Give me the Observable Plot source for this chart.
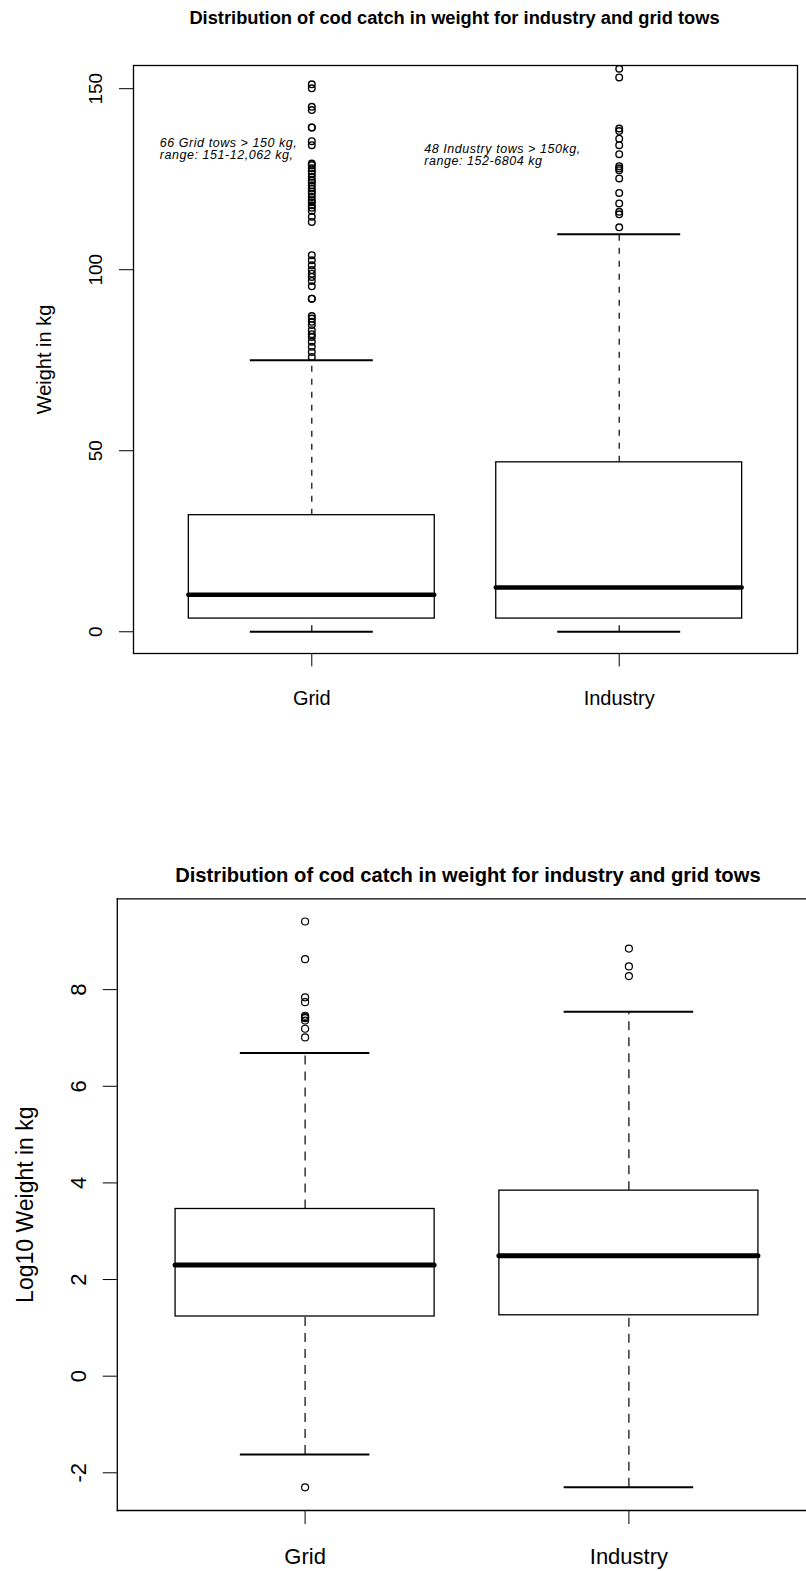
<!DOCTYPE html>
<html>
<head>
<meta charset="utf-8">
<script src="https://cdn.jsdelivr.net/npm/d3@7"></script>
<script src="https://cdn.jsdelivr.net/npm/@observablehq/plot@0.6"></script>
<style>
  html, body { margin: 0; padding: 0; background: #fff; }
  #wrap { width: 806px; }
  #wrap svg { display: block; }
</style>
</head>
<body>
<div id="wrap"></div>
<script>
// ---------- data ----------
const titleText = "Distribution of cod catch in weight for industry and grid tows";
const categories = ["Grid", "Industry"];
const positions = [1, 2];

// Top panel: raw weight (kg), y limited to 0–150
const topLower  = [0, 0];
const topQ1     = [3.65, 3.65];
const topMedian = [10.2, 12.2];
const topQ3     = [32.2, 46.8];
const topUpper  = [75.0, 109.8];
const topYTicks = [0, 50, 100, 150];
const topYLabel = "Weight in kg";
const gridOutliersTop = [151.2, 150.1, 145.0, 144.1, 139.3, 139.3, 135.5, 134.4,
  129.3, 128.9, 128.0, 127.2, 126.6, 125.7, 124.7, 124.1, 123.3, 122.4, 121.6, 121.0,
  120.1, 119.2, 118.6, 117.8, 117.1, 116.2, 114.6, 113.2,
  104.0, 102.6, 101.2, 99.9, 98.9, 98.0, 96.9, 95.4, 92.0, 92.0,
  87.2, 86.5, 85.6, 84.7, 83.3, 82.2, 81.4, 80.1, 78.7, 77.3, 75.9];
const industryOutliersTop = [155.5, 153.1, 139.0, 138.3, 136.2, 134.4, 131.9, 128.6,
  128.0, 127.5, 125.2, 121.2, 118.3, 116.0, 115.3, 111.7];
const annotLines = ["66 Grid tows > 150 kg,", "range: 151-12,062 kg,",
                    "48 Industry tows > 150kg,", "range: 152-6804 kg"];
const annotX = [0.5055, 0.5055, 1.3657, 1.3657];
const annotY = [134.9, 131.6, 133.4, 129.9];

// Bottom panel: log10 weight
const botLower  = [-1.62, -2.30];
const botQ1     = [1.235, 1.26];
const botMedian = [2.30, 2.49];
const botQ3     = [3.46, 3.84];
const botUpper  = [6.69, 7.54];
const botYTicks = [-2, 0, 2, 4, 6, 8];
const botYLabel = "Log10 Weight in kg";
const gridOutliersBot = [9.41, 8.63, 7.84, 7.74, 7.46, 7.43, 7.41, 7.36, 7.19, 7.01, -2.30];
const industryOutliersBot = [8.85, 8.48, 8.28];

// ---------- helpers ----------
const font = "'Liberation Sans', Arial, Helvetica, sans-serif";
function boxTable(lo, q1, med, q3, up) {
  return categories.map((c, i) => ({cat: c, pos: positions[i], lower: lo[i], q1: q1[i], median: med[i], q3: q3[i], upper: up[i]}));
}
function outlierTable(g, ind) {
  return g.map(v => ({pos: positions[0], v})).concat(ind.map(v => ({pos: positions[1], v})));
}

function boxMarks(boxes, outliers, dash, opts) {
  return [
    Plot.ruleX(boxes, {x: "pos", y1: "q3", y2: "upper", stroke: "black", strokeWidth: 1.2, strokeDasharray: dash}),
    Plot.ruleX(boxes, {x: "pos", y1: "lower", y2: "q1", stroke: "black", strokeWidth: 1.2, strokeDasharray: dash}),
    Plot.rect(boxes, {x1: d => d.pos - 0.4, x2: d => d.pos + 0.4, y1: "q1", y2: "q3", fill: "white", stroke: "black", strokeWidth: 1.3}),
    Plot.ruleY(boxes, {y: "median", x1: d => d.pos - 0.4, x2: d => d.pos + 0.4, stroke: "black", strokeWidth: opts.medW, strokeLinecap: "round"}),
    Plot.ruleY(boxes, {y: "upper", x1: d => d.pos - 0.2, x2: d => d.pos + 0.2, stroke: "black", strokeWidth: 2}),
    Plot.ruleY(boxes, {y: "lower", x1: d => d.pos - 0.2, x2: d => d.pos + 0.2, stroke: "black", strokeWidth: 2}),
    Plot.dot(outliers, {x: "pos", y: "v", r: opts.r, stroke: "black", fill: "none", strokeWidth: opts.dotW, clip: true})
  ];
}

// ---------- top chart ----------
const topBoxes = boxTable(topLower, topQ1, topMedian, topQ3, topUpper);
const topOut = outlierTable(gridOutliersTop, industryOutliersTop);
const annots = annotLines.map((t, i) => ({t, x: annotX[i], y: annotY[i]}));

const chartTop = Plot.plot({
  width: 806, height: 785,
  marginTop: 65, marginBottom: 132, marginLeft: 133, marginRight: 9,
  style: {fontFamily: font, background: "white", color: "black", overflow: "visible"},
  x: {domain: [0.42, 2.58], axis: null},
  y: {domain: [-6, 156.4], axis: null},
  marks: [
    ...boxMarks(topBoxes, topOut, "6,7", {medW: 4.5, r: 3.3, dotW: 1.4}),
    Plot.text(annots, {x: "x", y: "y", text: "t", textAnchor: "start", lineAnchor: "middle", fontSize: 12.5, fontStyle: "italic"}),
    Plot.frame({stroke: "black", strokeWidth: 1.3}),
    Plot.axisX({ticks: positions, tickFormat: d => categories[d - 1], tickSize: 13.4, tickPadding: 24, fontSize: 20, label: null}),
    Plot.axisY({ticks: topYTicks, tickSize: 14, tickFormat: () => "", label: null}),
    Plot.text(topYTicks, {y: d => d, text: d => String(d), frameAnchor: "left", dx: -37.3, rotate: -90, textAnchor: "middle", lineAnchor: "middle", fontSize: 19}),
    Plot.text([topYLabel], {frameAnchor: "left", dx: -89, rotate: -90, textAnchor: "middle", lineAnchor: "middle", fontSize: 20}),
    Plot.text([titleText], {frameAnchor: "top", dx: -11, dy: -41.5, lineAnchor: "bottom", textAnchor: "middle", fontSize: 18.3, fontWeight: "bold"})
  ]
});

// ---------- bottom chart ----------
const botBoxes = boxTable(botLower, botQ1, botMedian, botQ3, botUpper);
const botOut = outlierTable(gridOutliersBot, industryOutliersBot);

const chartBottom = Plot.plot({
  width: 806, height: 786,
  marginTop: 113.3, marginBottom: 61, marginLeft: 116.8, marginRight: 0,
  style: {fontFamily: font, background: "white", color: "black", overflow: "visible"},
  x: {domain: [0.42, 2.5485], axis: null},
  y: {domain: [-2.78, 9.88], axis: null},
  marks: [
    ...boxMarks(botBoxes, botOut, "9,7", {medW: 5, r: 3.5, dotW: 1.2}),
    Plot.frame({anchor: "top", stroke: "black", strokeWidth: 1.3}),
    Plot.frame({anchor: "left", stroke: "black", strokeWidth: 1.3}),
    Plot.frame({anchor: "bottom", stroke: "black", strokeWidth: 1.3}),
    Plot.axisX({ticks: positions, tickFormat: d => categories[d - 1], tickSize: 14, tickPadding: 23.4, fontSize: 22, label: null}),
    Plot.axisY({ticks: botYTicks, tickSize: 14, tickFormat: () => "", label: null}),
    Plot.text(botYTicks, {y: d => d, text: d => String(d), frameAnchor: "left", dx: -38.8, rotate: -90, textAnchor: "middle", lineAnchor: "middle", fontSize: 22}),
    Plot.text([botYLabel], {frameAnchor: "left", dx: -91.8, rotate: -90, textAnchor: "middle", lineAnchor: "middle", fontSize: 23}),
    Plot.text([titleText], {frameAnchor: "top", dx: 6, dy: -17, lineAnchor: "bottom", textAnchor: "middle", fontSize: 20.2, fontWeight: "bold"})
  ]
});

// slightly wider tracking for the small italic annotations (as in the original)
d3.select(chartTop).selectAll("text")
  .filter(function () { return annotLines.includes(this.textContent); })
  .style("letter-spacing", "0.55px");

const wrap = document.getElementById("wrap");
wrap.appendChild(chartTop);
wrap.appendChild(chartBottom);
</script>
</body>
</html>
